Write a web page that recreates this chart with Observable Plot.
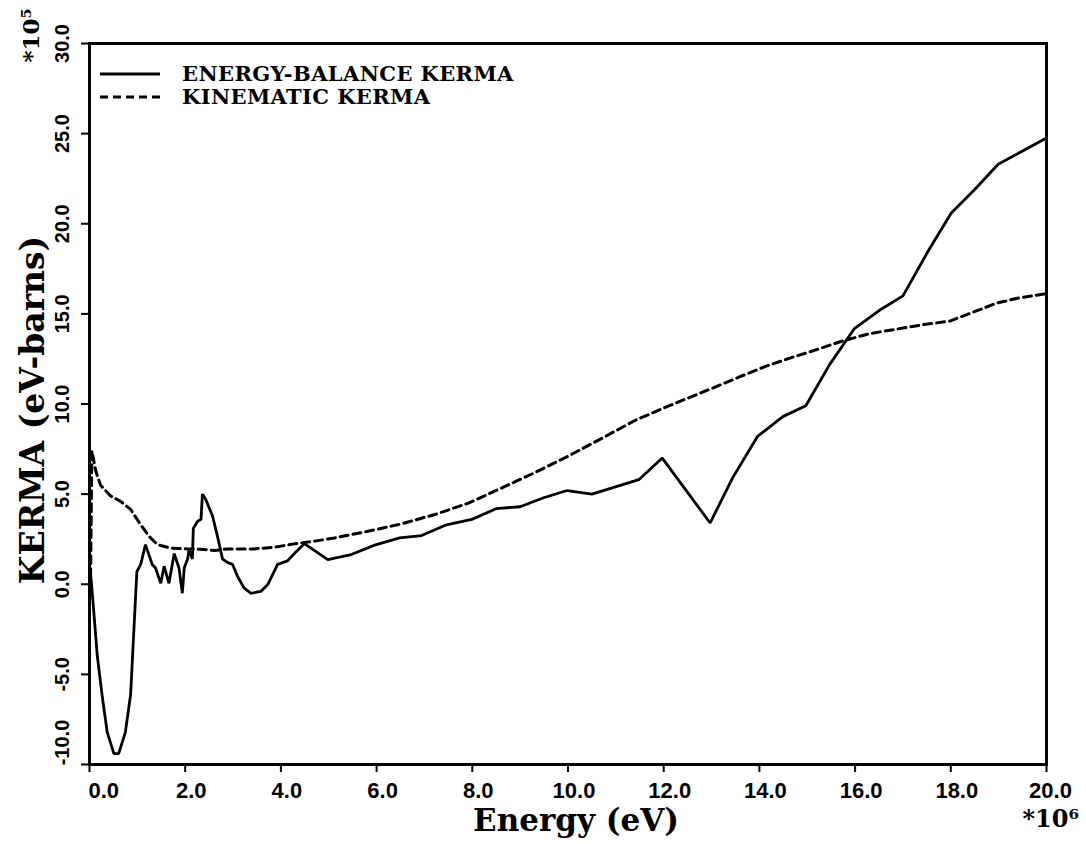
<!DOCTYPE html>
<html>
<head>
<meta charset="utf-8">
<script src="https://cdn.jsdelivr.net/npm/d3@7"></script>
<script src="https://cdn.jsdelivr.net/npm/@observablehq/plot@0.6"></script>
<style>
  html, body { margin: 0; padding: 0; background: #fff; }
  #chart { position: relative; width: 1086px; height: 844px; }
  #chart svg { display: block; }
  #chart g[aria-label="y-title"] text { letter-spacing: 1px; }
  .legend { position: absolute; left: 100px; top: 62px; font-family: "DejaVu Serif", serif; font-weight: bold; font-size: 21px; letter-spacing: 0.4px; color: #000; }
  .legend .row { display: flex; align-items: center; height: 23px; }
  .legend svg { width: 60px; height: 10px; margin-right: 22px; }
</style>
</head>
<body>
<div id="chart"></div>
<script>
// Energy-balance KERMA (solid): energy in units of 1e6 eV, KERMA in units of 1e5 eV-barns
const balanceEnergy = [0.03, 0.08, 0.16, 0.27, 0.37, 0.51, 0.61, 0.75, 0.86, 0.93, 0.99, 1.07, 1.17, 1.31, 1.38, 1.49, 1.56, 1.66, 1.77, 1.87, 1.94, 1.98, 2.05, 2.08, 2.15, 2.17, 2.26, 2.33, 2.36, 2.43, 2.57, 2.68, 2.78, 2.89, 2.99, 3.10, 3.23, 3.37, 3.58, 3.73, 3.93, 4.14, 4.28, 4.49, 4.98, 5.47, 5.96, 6.48, 6.94, 7.46, 7.99, 8.51, 9.00, 9.49, 9.98, 10.50, 10.99, 11.48, 11.97, 12.97, 13.44, 13.96, 14.49, 14.97, 15.47, 15.99, 16.51, 17.00, 17.53, 18.01, 18.50, 18.99, 19.96];
const balanceKerma = [0.4, -1.2, -3.9, -6.3, -8.2, -9.4, -9.4, -8.2, -6.1, -2.4, 0.7, 1.1, 2.2, 1.1, 0.9, 0.05, 1.0, 0.05, 1.7, 0.9, -0.5, 0.9, 1.4, 1.9, 1.4, 3.1, 3.5, 3.6, 5.0, 4.7, 3.8, 2.6, 1.4, 1.2, 1.1, 0.4, -0.2, -0.5, -0.4, 0.0, 1.1, 1.3, 1.7, 2.25, 1.37, 1.65, 2.17, 2.57, 2.7, 3.3, 3.6, 4.2, 4.3, 4.8, 5.2, 5.0, 5.4, 5.8, 7.0, 3.4, 5.9, 8.2, 9.3, 9.9, 12.2, 14.2, 15.2, 16.0, 18.5, 20.6, 21.9, 23.3, 24.7];

// Kinematic KERMA (dashed)
const kinematicEnergy = [0.02, 0.05, 0.13, 0.23, 0.44, 0.65, 0.86, 1.07, 1.24, 1.42, 1.70, 2.05, 2.40, 2.61, 2.89, 3.44, 3.86, 4.28, 4.70, 5.12, 5.82, 6.52, 7.22, 7.92, 8.62, 9.31, 10.00, 10.71, 11.41, 12.11, 12.95, 13.58, 14.14, 14.70, 15.18, 15.74, 16.30, 16.86, 17.42, 17.98, 18.47, 18.96, 19.45, 19.96];
const kinematicKerma = [-0.3, 7.4, 6.3, 5.5, 4.9, 4.6, 4.15, 3.3, 2.67, 2.2, 2.0, 1.96, 1.93, 1.87, 1.96, 1.96, 2.05, 2.24, 2.39, 2.57, 2.94, 3.35, 3.87, 4.5, 5.35, 6.2, 7.1, 8.1, 9.1, 9.9, 10.8, 11.5, 12.1, 12.6, 13.0, 13.5, 13.9, 14.15, 14.4, 14.6, 15.1, 15.6, 15.9, 16.1];

const xTicks = [0, 2, 4, 6, 8, 10, 12, 14, 16, 18, 20];
const yTicks = [-10, -5, 0, 5, 10, 15, 20, 25, 30];

const seriesNames = ["ENERGY-BALANCE KERMA", "KINEMATIC KERMA"];
const xLabel = "Energy (eV)";
const yLabel = "KERMA (eV-barns)";
const xExponent = "*10\u2076";
const yExponent = "*10\u2075";

const balance = balanceEnergy.map((e, i) => ({energy: e, kerma: balanceKerma[i]}));
const kinematic = kinematicEnergy.map((e, i) => ({energy: e, kerma: kinematicKerma[i]}));

const fmt = d => d.toFixed(1);
const tickFont = {fontFamily: "Liberation Sans", fontWeight: "bold", fill: "black"};
const labelFont = {fontFamily: "DejaVu Serif", fontWeight: "bold", fill: "black"};

const chart = Plot.plot({
  width: 1086,
  height: 844,
  marginLeft: 89,
  marginRight: 40,
  marginTop: 43,
  marginBottom: 80,
  style: {background: "white", color: "black", overflow: "visible"},
  x: {domain: [0, 20]},
  y: {domain: [-10, 30]},
  marks: [
    Plot.frame({stroke: "black", strokeWidth: 3}),
    Plot.axisX(xTicks, {tickSize: 8, strokeWidth: 2, stroke: "black", fill: "none"}),
    Plot.axisY(yTicks, {tickSize: 8, strokeWidth: 2, stroke: "black", fill: "none"}),
    // x tick labels
    Plot.text(xTicks.filter(d => d > 0 && d < 20), {x: d => d, text: fmt, frameAnchor: "bottom", dy: 26, dx: 6, lineAnchor: "middle", fontSize: 22, ...tickFont}),
    Plot.text([0], {x: d => d, text: fmt, frameAnchor: "bottom", dy: 26, dx: -1, textAnchor: "start", lineAnchor: "middle", fontSize: 22, ...tickFont}),
    Plot.text([20], {x: d => d, text: fmt, frameAnchor: "bottom", dy: 26, dx: 4, lineAnchor: "middle", fontSize: 22, ...tickFont}),
    // y tick labels, rotated
    Plot.text(yTicks.filter(d => d > -10), {y: d => d, text: fmt, frameAnchor: "left", dx: -27, rotate: -90, textAnchor: "middle", lineAnchor: "middle", fontSize: 20, ...tickFont}),
    Plot.text([-10], {y: d => d, text: fmt, frameAnchor: "left", dx: -27, dy: -22, rotate: -90, textAnchor: "middle", lineAnchor: "middle", fontSize: 20, ...tickFont}),
    // axis titles and exponents
    Plot.text([xLabel], {text: d => d, frameAnchor: "bottom", dy: 57, dx: 8, lineAnchor: "middle", fontSize: 31, ...labelFont}),
    Plot.text([yLabel], {text: d => d, frameAnchor: "left", dx: -56, dy: 6, rotate: -90, textAnchor: "middle", lineAnchor: "middle", fontSize: 33, ariaLabel: "y-title", ...labelFont}),
    Plot.text([xExponent], {text: d => d, frameAnchor: "bottom-right", dx: -24, dy: 55, textAnchor: "start", lineAnchor: "middle", fontSize: 24, ...labelFont}),
    Plot.text([yExponent], {text: d => d, frameAnchor: "top-left", dx: -58, dy: -35, rotate: -90, textAnchor: "end", lineAnchor: "middle", fontSize: 23, ...labelFont}),
    // curves
    Plot.line(kinematic, {x: "energy", y: "kerma", stroke: "black", strokeWidth: 3, strokeDasharray: "8,5", strokeLinejoin: "round"}),
    Plot.line(balance, {x: "energy", y: "kerma", stroke: "black", strokeWidth: 2.8, strokeLinejoin: "miter"})
  ]
});

const root = document.getElementById("chart");
root.appendChild(chart);

// Legend drawn in the upper-left corner of the frame
const legend = document.createElement("div");
legend.className = "legend";
const dashes = ["", "8,5"];
seriesNames.forEach((name, i) => {
  const row = document.createElement("div");
  row.className = "row";
  row.innerHTML = `<svg viewBox="0 0 60 10"><line x1="0" y1="5" x2="60" y2="5" stroke="black" stroke-width="${i ? 3 : 2.8}" ${dashes[i] ? `stroke-dasharray="${dashes[i]}"` : ""}/></svg><span>${name}</span>`;
  legend.appendChild(row);
});
root.appendChild(legend);
</script>
</body>
</html>
